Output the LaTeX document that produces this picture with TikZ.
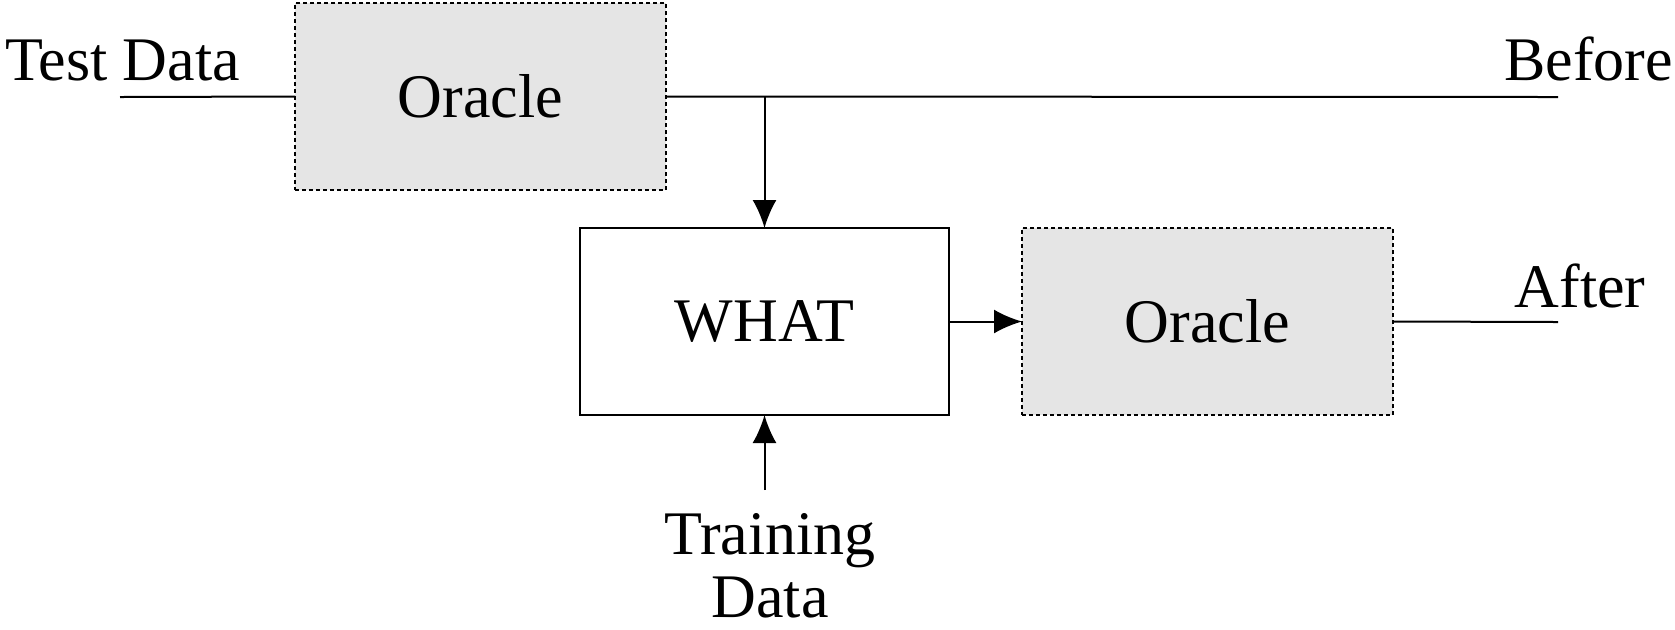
\documentclass[tikz,border=0pt]{standalone}
\usepackage{fontspec}
\setmainfont{Liberation Serif}
\usetikzlibrary{arrows.meta}
\definecolor{boxgray}{HTML}{E5E5E5}
\begin{document}
\begin{tikzpicture}[x=0.5pt,y=-0.5pt,
  every node/.style={font=\fontsize{31}{31.5}\selectfont, inner sep=0pt, outer sep=0pt},
  oraclebox/.style={draw, fill=boxgray, dash pattern=on 2pt off 1.5pt, line width=1pt,
    minimum width=185.5pt, minimum height=93.5pt},
  whatbox/.style={draw, line width=1pt, minimum width=184.5pt, minimum height=93.5pt},
  conn/.style={line width=1pt},
  arr/.style={conn, -{Latex[length=14pt,width=12pt]}}
]
\useasboundingbox (0,0) rectangle (1675,629);
\node[oraclebox] (O1) at (480.5,96.5) {Oracle};
\node[whatbox] (W) at (764.5,321.5) {WHAT};
\node[oraclebox] (O2) at (1207.5,321.5) {Oracle};
\node[anchor=base west] (td) at (5,80) {Test Data};
\node[anchor=base east] (bf) at (1673,80) {Before};
\node[anchor=base] (af) at (1580,307) {After};
\node[anchor=north, align=center] (tr) at (770,513) {Training\\Data};
\coordinate (tdstart) at (120,97);
\coordinate (bfend) at (1558,97);
\coordinate (afend) at (1558,322);
\coordinate (j) at (W.north |- O1.east);
\coordinate (trstart) at (764.5,490);
\draw[conn] (tdstart) -- (O1.west);
\draw[conn] (O1.east) -- (bfend);
\draw[arr] (j) -- (W.north);
\draw[arr] (W.east) -- (O2.west);
\draw[conn] (O2.east) -- (afend);
\draw[arr] (trstart) -- (W.south);
\end{tikzpicture}
\end{document}
